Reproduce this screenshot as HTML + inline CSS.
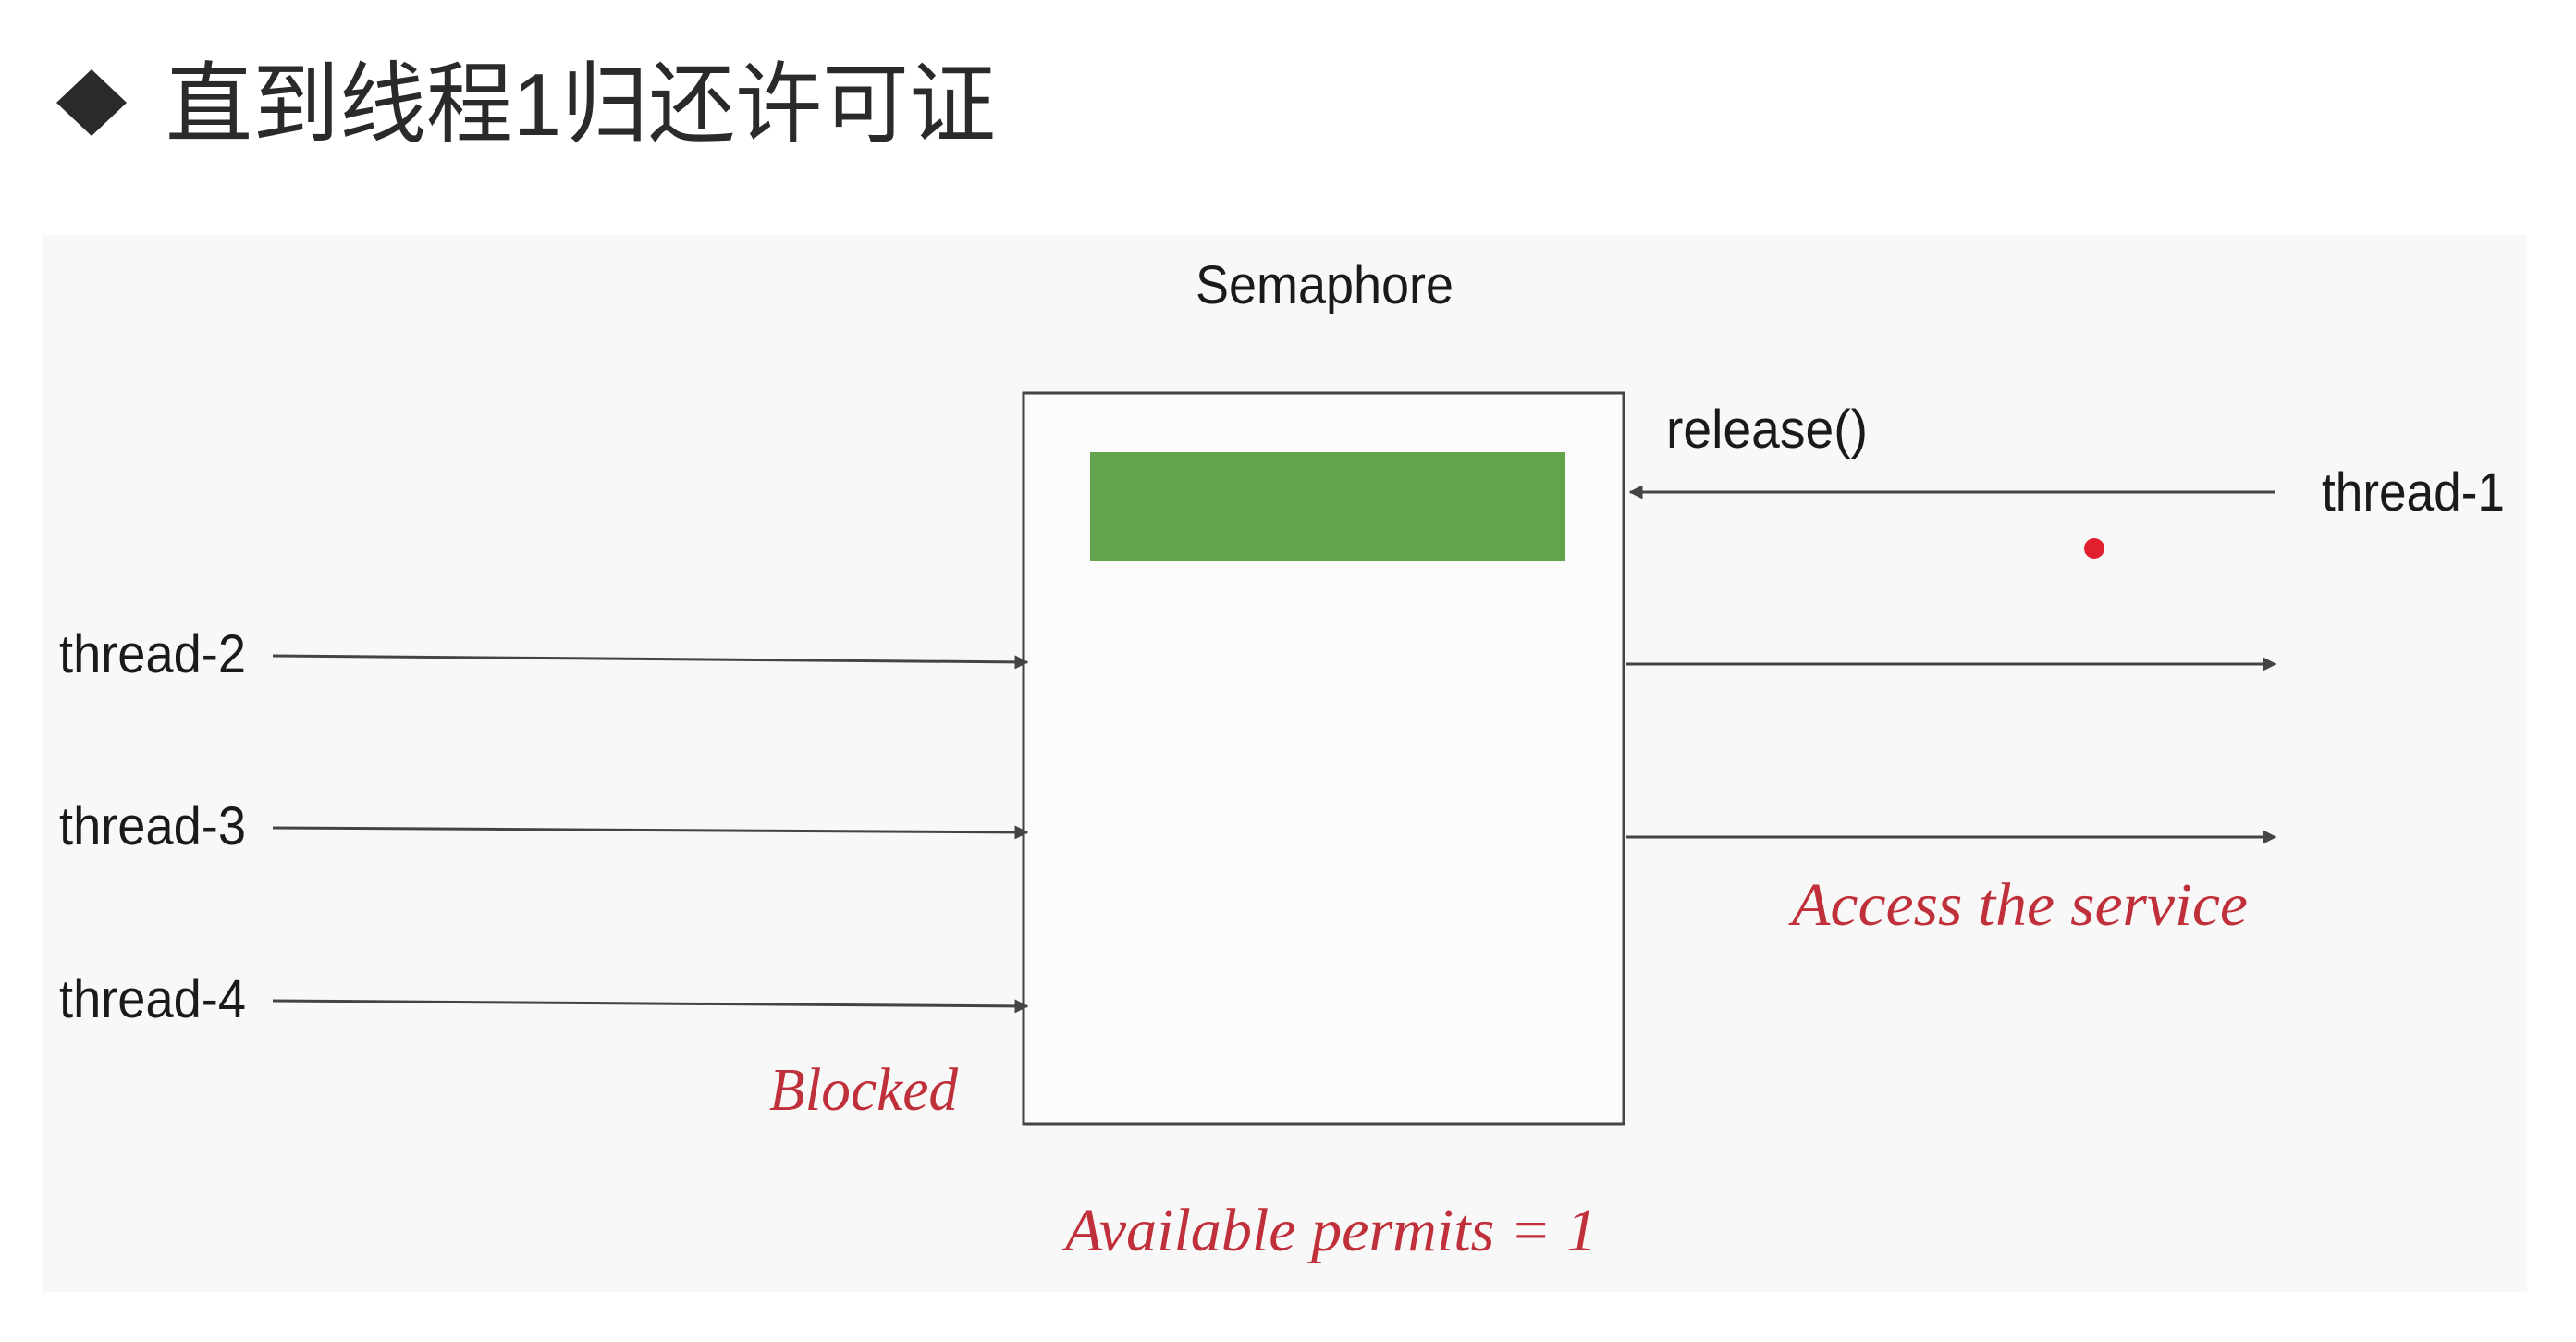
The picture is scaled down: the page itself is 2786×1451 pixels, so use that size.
<!DOCTYPE html>
<html><head><meta charset="utf-8"><style>
html,body{margin:0;padding:0;background:#fff;}
body{width:2786px;height:1446px;overflow:hidden;}
</style></head><body>
<svg width="2786" height="1446" viewBox="0 0 2786 1446" xmlns="http://www.w3.org/2000/svg">
<defs>
<marker id="ah" viewBox="0 0 10 10" refX="9" refY="5" markerWidth="5" markerHeight="5" orient="auto">
<path d="M0,0 L10,5 L0,10 z" fill="#444"/></marker>
</defs>
<rect x="0" y="0" width="2786" height="1446" fill="#fff"/>
<polygon points="99,75 137,111 99,147 61,111" fill="#2a2a2a"/>
<text x="179" y="146" textLength="898" lengthAdjust="spacingAndGlyphs" font-family="'Liberation Sans','Noto Sans CJK SC',sans-serif" font-size="96" fill="#2a2a2a">直到线程1归还许可证</text>
<rect x="45" y="254" width="2688" height="1143" fill="#f8f8f8"/>
<g font-family="'Liberation Sans',sans-serif" font-size="58" fill="#1a1a1a" lengthAdjust="spacingAndGlyphs">
<text x="1293" y="328" textLength="279" lengthAdjust="spacingAndGlyphs">Semaphore</text>
<text x="1802" y="484" textLength="218" lengthAdjust="spacingAndGlyphs">release()</text>
<text x="2511" y="552" textLength="198" lengthAdjust="spacingAndGlyphs">thread-1</text>
<text x="64" y="727" textLength="202" lengthAdjust="spacingAndGlyphs">thread-2</text>
<text x="64" y="913" textLength="202" lengthAdjust="spacingAndGlyphs">thread-3</text>
<text x="64" y="1100" textLength="202" lengthAdjust="spacingAndGlyphs">thread-4</text>
</g>
<rect x="1107" y="425" width="649" height="790" fill="#fbfbfb" stroke="#444" stroke-width="3"/>
<rect x="1179" y="489" width="514" height="118" fill="#63a34b"/>
<line x1="2461" y1="532" x2="1763" y2="532" stroke="#444" stroke-width="3" marker-end="url(#ah)"/>
<circle cx="2265" cy="593" r="11" fill="#e0202e"/>
<g stroke="#444" stroke-width="3" marker-end="url(#ah)">
<line x1="295" y1="709" x2="1111" y2="716"/>
<line x1="295" y1="895" x2="1111" y2="900"/>
<line x1="295" y1="1082" x2="1111" y2="1088"/>
<line x1="1759" y1="718" x2="2461" y2="718"/>
<line x1="1759" y1="905" x2="2461" y2="905"/>
</g>
<g font-family="'Liberation Serif',serif" font-style="italic" font-size="66" fill="#c0303a">
<text x="1938" y="1000" textLength="493" lengthAdjust="spacingAndGlyphs">Access the service</text>
<text x="832" y="1200" textLength="204" lengthAdjust="spacingAndGlyphs">Blocked</text>
<text x="1152" y="1352" textLength="575" lengthAdjust="spacingAndGlyphs">Available permits = 1</text>
</g>
</svg>
</body></html>
